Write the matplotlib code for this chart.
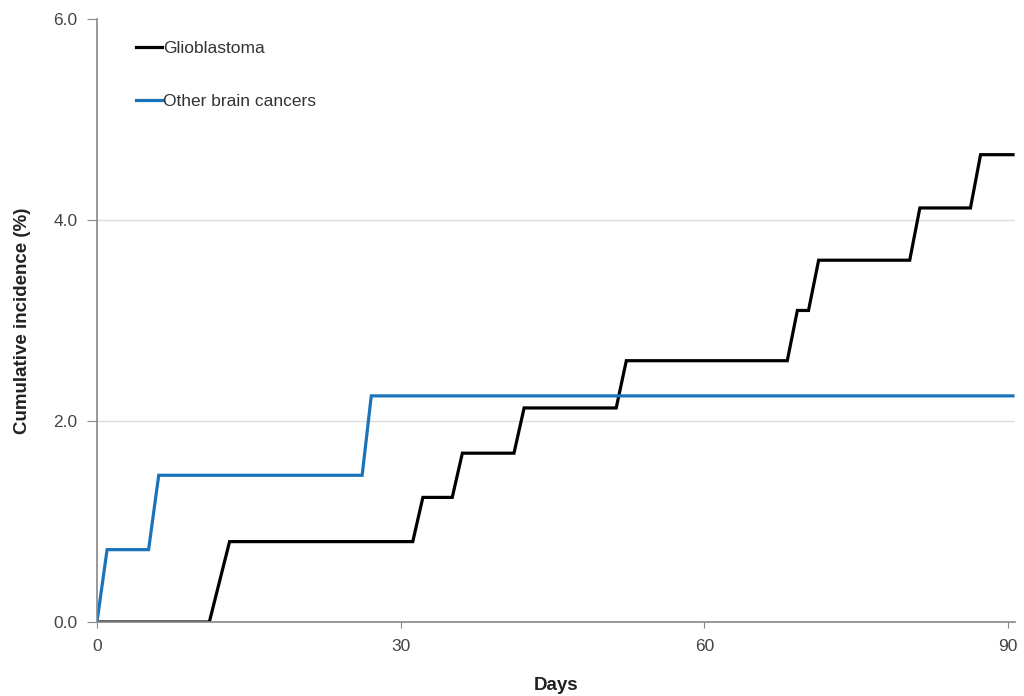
import matplotlib
matplotlib.use('Agg')
import matplotlib.pyplot as plt

plt.rcParams['font.family'] = ['Liberation Sans', 'DejaVu Sans']

# Glioblastoma (day, cumulative incidence %)
gbm_days = [0, 11.1, 13.1, 31.2, 32.2, 35.1, 36.1, 41.2, 42.2, 51.3, 52.3,
            68.2, 69.2, 70.3, 71.3, 80.3, 81.3, 86.3, 87.3, 90.5]
gbm_vals = [0, 0, 0.80, 0.80, 1.24, 1.24, 1.68, 1.68, 2.13, 2.13, 2.60,
            2.60, 3.10, 3.10, 3.60, 3.60, 4.12, 4.12, 4.65, 4.65]

# Other brain cancers
other_days = [0, 1.0, 5.1, 6.1, 26.2, 27.1, 90.5]
other_vals = [0, 0.72, 0.72, 1.46, 1.46, 2.25, 2.25]

yticks = [0, 2, 4, 6]
xticks = [0, 30, 60, 90]

fig = plt.figure(figsize=(10.24, 6.96), dpi=100)
ax = fig.add_axes([0.0947, 0.1063, 0.8965, 0.8664])

ax.plot(gbm_days, gbm_vals, color='black', lw=2.3, label='Glioblastoma',
        solid_joinstyle='miter')
ax.plot(other_days, other_vals, color='#1b74b9', lw=2.3, label='Other brain cancers',
        solid_joinstyle='miter')

ax.set_xlim(0, 90.7)
ax.set_ylim(0, 6)
ax.set_xticks(xticks)
ax.set_yticks(yticks)
ax.set_yticklabels(['%.1f' % v for v in yticks])
ax.tick_params(labelsize=12.5, labelcolor='#444444', color='#888888')
ax.tick_params(axis='y', length=7, pad=7)
ax.tick_params(axis='x', length=4, pad=8)
for v in yticks[1:-1]:
    ax.axhline(v, color='#dddddd', lw=1, zorder=0)
for s in ['top', 'right']:
    ax.spines[s].set_visible(False)
for s in ['left', 'bottom']:
    ax.spines[s].set_color('#888888')
    ax.spines[s].set_linewidth(1.2)

ax.set_xlabel('Days', fontsize=13.5, fontweight='bold', labelpad=17, color='#222222')
ax.set_ylabel('Cumulative incidence (%)', fontsize=13.5, fontweight='bold', labelpad=16,
              color='#222222')

ax.legend(loc='upper left', bbox_to_anchor=(0.025, 0.99), frameon=False,
          fontsize=12.5, handlelength=1.5, handletextpad=0.1, labelspacing=2.2,
          labelcolor='#333333')

fig.savefig('out.png', dpi=100)
